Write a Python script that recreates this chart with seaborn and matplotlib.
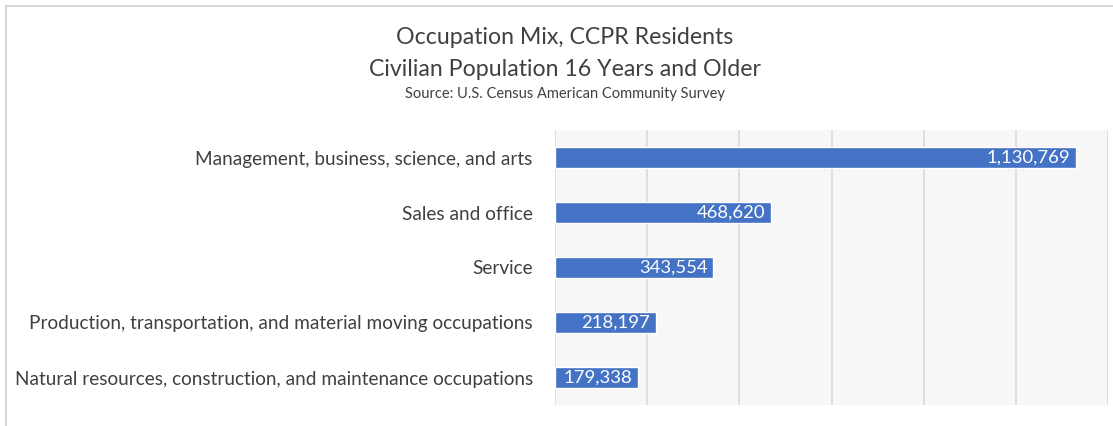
import matplotlib
matplotlib.use("Agg")
import matplotlib.pyplot as plt
from matplotlib.patches import Rectangle
import seaborn as sns
import pandas as pd

categories = [
    "Management, business, science, and arts",
    "Sales and office",
    "Service",
    "Production, transportation, and material moving occupations",
    "Natural resources, construction, and maintenance occupations",
]
values = [1130769, 468620, 343554, 218197, 179338]
x_ticks = [0, 200000, 400000, 600000, 800000, 1000000, 1200000]

title_lines = ["Occupation Mix, CCPR Residents", "Civilian Population 16 Years and Older"]
source_text = "Source: U.S. Census American Community Survey"

sns.set_theme(style="white")
plt.rcParams["font.family"] = ["Lato", "DejaVu Sans"]

df = pd.DataFrame({"category": categories, "value": values})

fig = plt.figure(figsize=(11.13, 4.26), dpi=100)
ax = fig.add_axes([555 / 1113, 1 - 405 / 426, (1108 - 555) / 1113, (405 - 130) / 426])
ax.set_facecolor("#f7f7f7")

sns.barplot(data=df, x="value", y="category", orient="h", color="#4472C4",
            saturation=1, width=0.37, ax=ax, zorder=3)

ax.set_xlim(x_ticks[0], x_ticks[-1])
ax.set_xticks(x_ticks)
ax.set_xticklabels([])
ax.tick_params(axis="x", length=0)
ax.tick_params(axis="y", length=0, pad=16, labelsize=13.7, labelcolor="#404040")
ax.xaxis.grid(True, color="#d9d9d9", linewidth=1.2, zorder=0)
ax.yaxis.grid(False)
ax.set_axisbelow(True)
for s in ax.spines.values():
    s.set_visible(False)
ax.set_xlabel("")
ax.set_ylabel("")

for i, v in enumerate(values):
    ax.annotate(f"{v:,}", xy=(v, i), xytext=(-4, 0), textcoords="offset points",
                ha="right", va="center", color="white", fontsize=13.3, zorder=5)

fig.text(565 / 1113, 1 - 38 / 426, title_lines[0], ha="center", va="center",
         fontsize=16.7, color="#404040")
fig.text(565 / 1113, 1 - 69 / 426, title_lines[1], ha="center", va="center",
         fontsize=16.7, color="#404040")
fig.text(565 / 1113, 1 - 94 / 426, source_text, ha="center", va="center",
         fontsize=10.5, color="#404040")

fig.patches.append(Rectangle((6 / 1113, -0.2), 1.2, 1.2 - 6 / 426,
                             transform=fig.transFigure, fill=False,
                             edgecolor="#d0d0d0", linewidth=1.2))

fig.savefig("out.png", dpi=100)
